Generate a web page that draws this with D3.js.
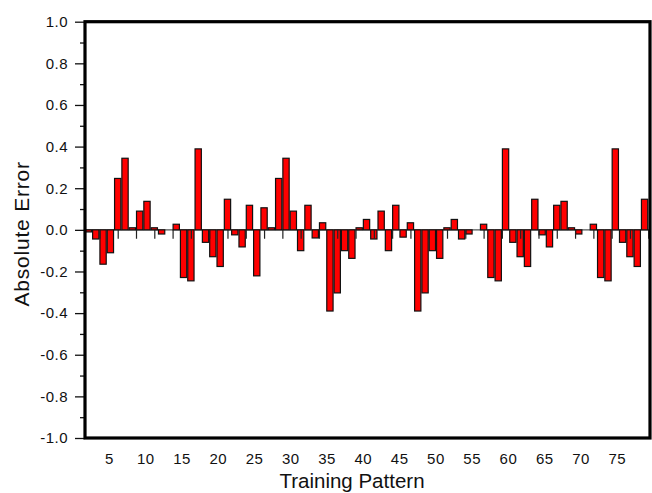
<!DOCTYPE html>
<html>
<head>
<meta charset="utf-8">
<script src="https://cdn.jsdelivr.net/npm/d3@7"></script>
<style>
  html, body { margin: 0; padding: 0; background: #fff; }
  svg { display: block; font-family: "Liberation Sans", Arial, sans-serif; }
</style>
</head>
<body>
<svg id="chart" width="652" height="493"></svg>
<script>
// Training patterns 2..78 and their absolute error
const patterns = d3.range(2, 79);
const errors = [
  -0.010, -0.044, -0.165, -0.110, 0.247, 0.344, 0.010, 0.090, 0.137, 0.010,
  -0.020, 0.000, 0.027, -0.229, -0.245, 0.389, -0.060, -0.129, -0.176, 0.147,
  -0.024, -0.082, 0.118, -0.221, 0.106, 0.010, 0.247, 0.344, 0.090, -0.100,
  0.118, -0.039, 0.034, -0.390, -0.303, -0.100, -0.137, 0.010, 0.050, -0.044,
  0.090, -0.100, 0.118, -0.035, 0.034, -0.390, -0.303, -0.100, -0.137, 0.010,
  0.050, -0.044, -0.020, 0.000, 0.027, -0.229, -0.245, 0.389, -0.060, -0.129,
  -0.176, 0.147, -0.024, -0.082, 0.118, 0.137, 0.010, -0.020, 0.000, 0.027,
  -0.229, -0.245, 0.389, -0.060, -0.129, -0.176, 0.147
];
const xTickLabels = [5, 10, 15, 20, 25, 30, 35, 40, 45, 50, 55, 60, 65, 70, 75];
const yTickLabels = [1.0, 0.8, 0.6, 0.4, 0.2, 0.0, -0.2, -0.4, -0.6, -0.8, -1.0];
const yMinorTicks = [0.9, 0.7, 0.5, 0.3, 0.1, -0.1, -0.3, -0.5, -0.7, -0.9];
const zeroLineTicks = d3.range(1, 79, 2.5);

const data = patterns.map((p, i) => ({ p, v: errors[i] }));

const plotLeft = 85, plotRight = 650, plotTop = 21.7, plotBottom = 438;
const svg = d3.select("#chart");

// bar positions and the labelled axis
const x = d3.scaleLinear().domain([1.53, 78.74]).range([plotLeft, plotRight]);
const xLab = d3.scaleLinear().domain([1.696, 79.58]).range([plotLeft, plotRight]);
const y = d3.scaleLinear().domain([-1, 1]).range([plotBottom, plotTop]);

const barW = 0.86 * (x(1) - x(0));

svg.append("defs").append("clipPath").attr("id", "plot")
  .append("rect").attr("x", plotLeft).attr("y", plotTop)
  .attr("width", plotRight - plotLeft).attr("height", plotBottom - plotTop);

const plot = svg.append("g").attr("clip-path", "url(#plot)");

// zero reference line
plot.append("line")
  .attr("x1", plotLeft).attr("x2", plotRight)
  .attr("y1", y(0)).attr("y2", y(0))
  .attr("stroke", "#555").attr("stroke-width", 1.2);

// bars
plot.selectAll("rect.bar")
  .data(data.filter(d => d.v !== 0))
  .join("rect")
  .attr("class", "bar")
  .attr("x", d => x(d.p) - barW / 2)
  .attr("width", barW)
  .attr("y", d => y(Math.max(0, d.v)))
  .attr("height", d => Math.abs(y(d.v) - y(0)))
  .attr("fill", "#ff0000")
  .attr("stroke", "#111")
  .attr("stroke-width", 1.2);

// ticks along the zero line
const zeroAxis = plot.append("g")
  .attr("transform", `translate(0,${y(0)})`)
  .call(d3.axisBottom(x).tickValues(zeroLineTicks).tickSize(9).tickFormat(""));
zeroAxis.select(".domain").remove();
zeroAxis.selectAll("line").attr("stroke", "#222").attr("stroke-width", 1.2);

// y axis: major ticks with labels, minor ticks
const fmt = d3.format(".1f");
const yAxis = svg.append("g")
  .attr("transform", `translate(${plotLeft},0)`)
  .call(d3.axisLeft(y).tickValues(yTickLabels).tickSize(10).tickPadding(7)
    .tickFormat(d => fmt(d).replace("\u2212", "-")));
yAxis.select(".domain").remove();
yAxis.selectAll("line").attr("stroke", "#111").attr("stroke-width", 1.3);
yAxis.selectAll("text").attr("font-size", 15).attr("fill", "#111")
  .attr("font-family", "'Liberation Sans', Arial, sans-serif")
  .attr("letter-spacing", "0.5px");

const yMinor = svg.append("g")
  .attr("transform", `translate(${plotLeft},0)`)
  .call(d3.axisLeft(y).tickValues(yMinorTicks).tickSize(5).tickFormat(""));
yMinor.select(".domain").remove();
yMinor.selectAll("line").attr("stroke", "#111").attr("stroke-width", 1.3);

// x axis labels
const xAxis = svg.append("g")
  .attr("transform", `translate(0,${plotBottom})`)
  .call(d3.axisBottom(xLab).tickValues(xTickLabels).tickSize(0).tickPadding(15));
xAxis.select(".domain").remove();
xAxis.selectAll("text").attr("font-size", 15).attr("fill", "#111")
  .attr("font-family", "'Liberation Sans', Arial, sans-serif")
  .attr("letter-spacing", "0.5px");

// frame
svg.append("rect")
  .attr("x", plotLeft).attr("y", plotTop)
  .attr("width", plotRight - plotLeft).attr("height", plotBottom - plotTop)
  .attr("fill", "none").attr("stroke", "#000").attr("stroke-width", 3.2);

// axis titles
svg.append("text")
  .attr("transform", `translate(29,${(plotTop + plotBottom) / 2 + 4}) rotate(-90)`)
  .attr("text-anchor", "middle")
  .attr("font-size", 21).attr("fill", "#111")
  .attr("letter-spacing", "0.8px")
  .text("Absolute Error");

svg.append("text")
  .attr("x", 352).attr("y", 487.5)
  .attr("text-anchor", "middle")
  .attr("font-size", 20.5).attr("fill", "#111")
  .text("Training Pattern");
</script>
</body>
</html>
